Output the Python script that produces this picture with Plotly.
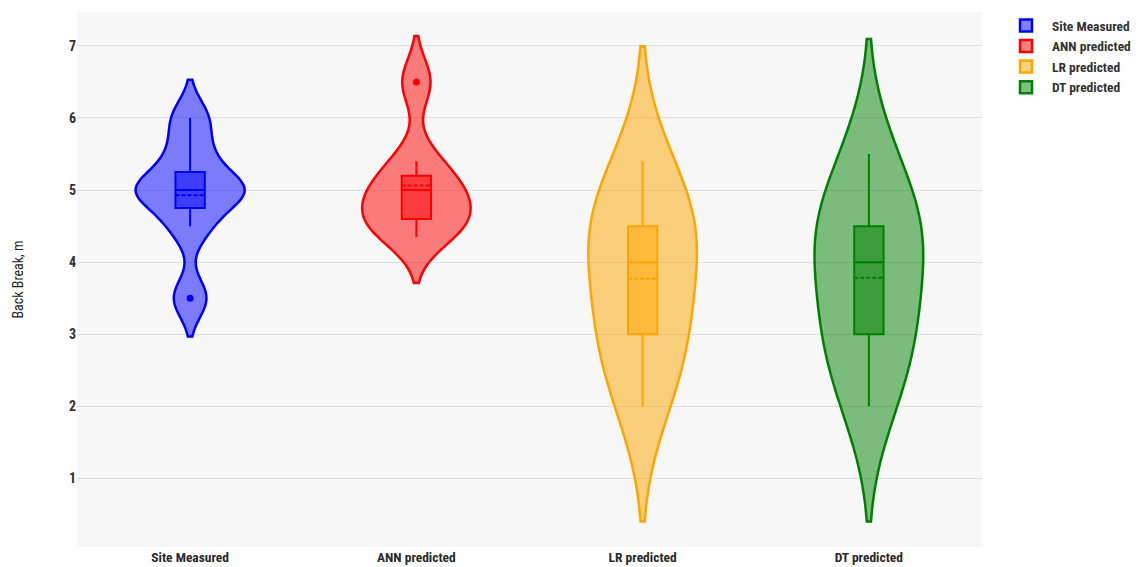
import plotly.graph_objects as go

# Back break (m) for the seven blasts, measured on site and predicted by three models
categories = ["Site Measured", "ANN predicted", "LR predicted", "DT predicted"]
site_measured = [3.5, 4.5, 5.0, 5.0, 5.0, 5.5, 6.0]
ann_predicted = [4.35, 4.6, 4.6, 5.0, 5.0, 5.4, 6.5]
lr_predicted = [2.0, 3.0, 3.0, 4.0, 4.5, 4.5, 5.4]
dt_predicted = [2.0, 3.0, 3.0, 4.0, 4.5, 4.5, 5.5]
y_ticks = [1, 2, 3, 4, 5, 6, 7]

series = [site_measured, ann_predicted, lr_predicted, dt_predicted]
line_colors = ["rgb(0,0,255)", "rgb(255,0,0)", "rgb(255,165,0)", "rgb(0,128,0)"]
fill_colors = ["rgba(0,0,255,0.5)", "rgba(255,0,0,0.5)", "rgba(255,165,0,0.5)", "rgba(0,128,0,0.5)"]

FONT = "Liberation Sans Narrow, Arial Narrow, Roboto Condensed, Roboto, sans-serif"

fig = go.Figure()
for name, vals, lc, fc in zip(categories, series, line_colors, fill_colors):
    fig.add_trace(go.Violin(
        x=[name] * len(vals),
        y=vals,
        name=name,
        line=dict(color=lc, width=2.5),
        fillcolor=fc,
        opacity=1,
        width=0.48,
        scalemode="width",
        quartilemethod="inclusive",
        spanmode="soft",
        points="outliers",
        pointpos=0,
        jitter=0,
        marker=dict(color=lc, size=7),
        box=dict(visible=True, width=0.27, fillcolor=fc, line=dict(color=lc, width=2)),
        meanline=dict(visible=True, color=lc, width=2),
        hoverinfo="skip",
    ))

fig.update_layout(
    width=1143,
    height=567,
    margin=dict(l=77, r=161, t=12, b=20, autoexpand=False),
    paper_bgcolor="white",
    plot_bgcolor="#f7f7f7",
    violinmode="overlay",
    font=dict(family=FONT, color="#333333"),
    legend=dict(
        xref="container", yref="container",
        x=0.8749, y=0.982, xanchor="left", yanchor="top",
        font=dict(family=FONT, size=13.5, color="#333333", weight="bold"),
        itemwidth=42,
        tracegroupgap=0,
    ),
    xaxis=dict(
        categoryorder="array",
        categoryarray=categories,
        range=[-0.5, 3.5],
        automargin=False,
        showgrid=False,
        zeroline=False,
        showline=False,
        ticks="",
        tickfont=dict(family=FONT, size=13.5, color="#2a2a2a", weight="bold"),
    ),
    yaxis=dict(
        range=[0.05, 7.47],
        tickvals=y_ticks,
        automargin=False,
        showgrid=True,
        gridcolor="#dedeea",
        gridwidth=1,
        zeroline=False,
        showline=False,
        ticks="",
        tickfont=dict(family=FONT, size=14, color="#333333", weight="bold"),
        title=dict(text="Back Break, m", font=dict(family=FONT, size=14, color="#222222"), standoff=42),
    ),
)

fig.write_html("out.html")
